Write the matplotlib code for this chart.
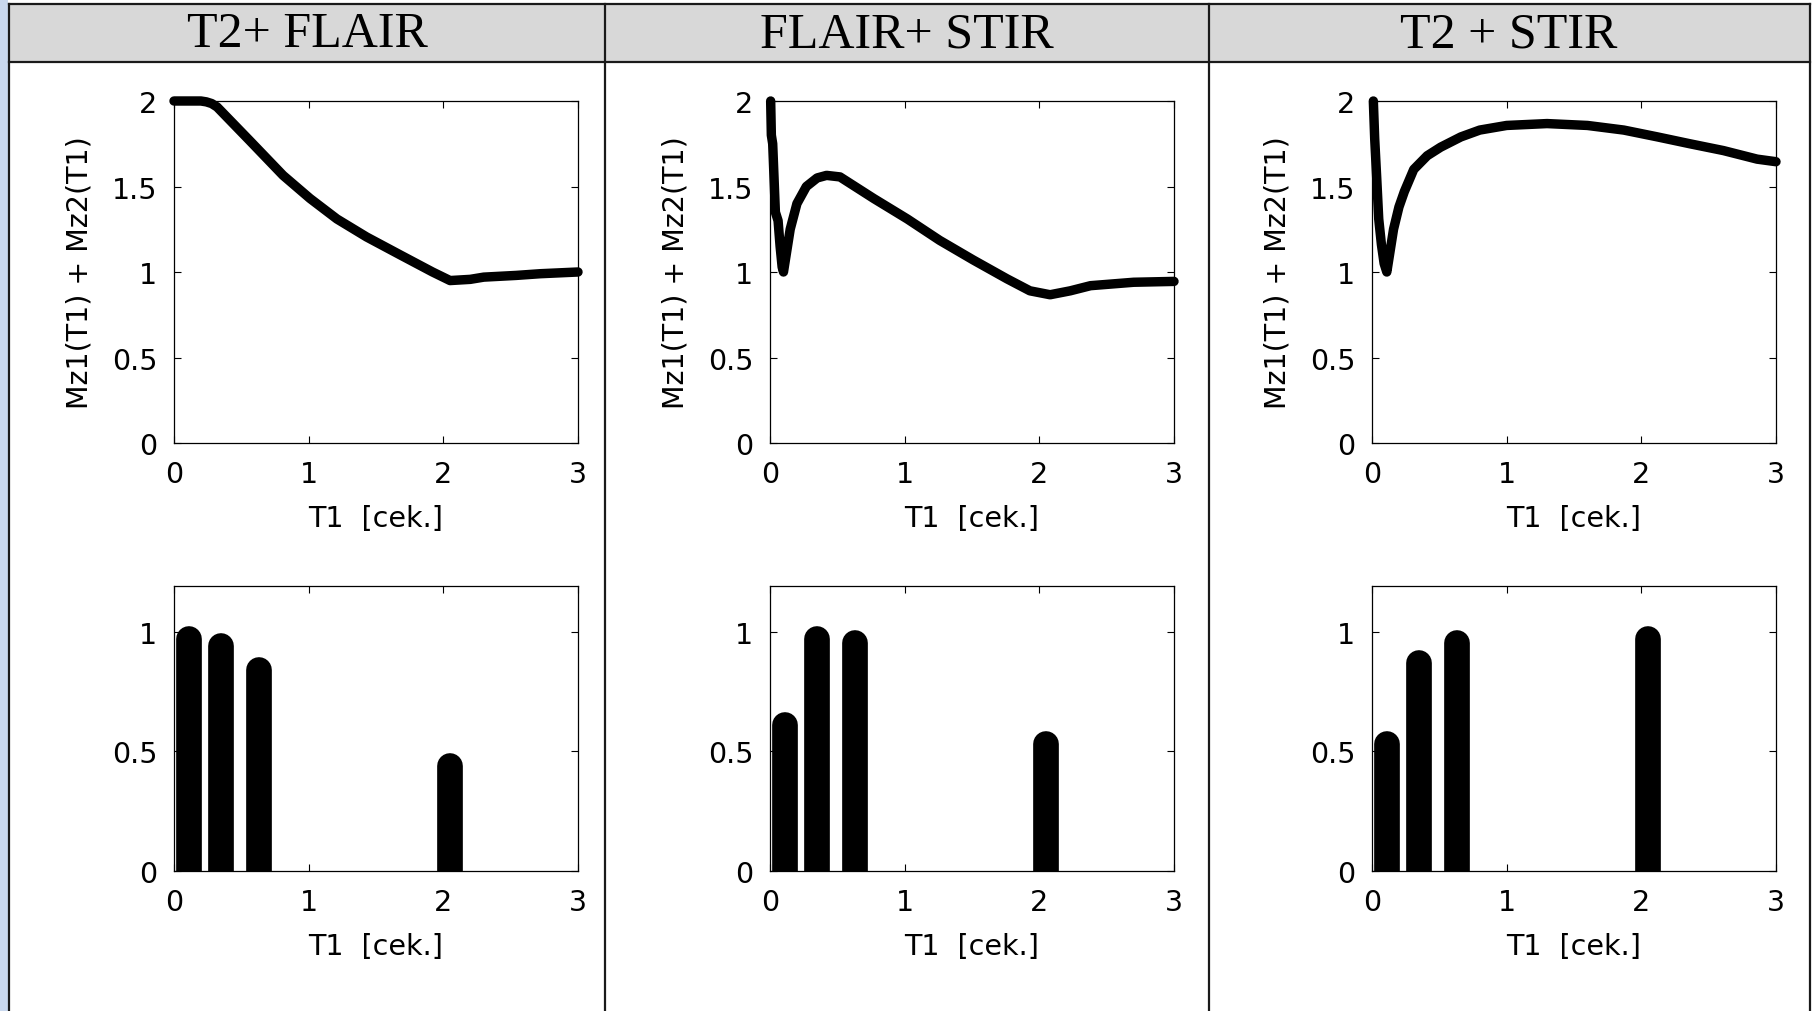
import matplotlib
matplotlib.use("Agg")
import matplotlib.pyplot as plt
from matplotlib.lines import Line2D
from matplotlib.patches import Rectangle

# column headers
titles = ["T2+ FLAIR", "FLAIR+ STIR", "T2 + STIR"]

# top row: Mz1(T1) + Mz2(T1) curves
t_top1 = [0, 0.1, 0.2, 0.24, 0.28, 0.32, 0.56, 0.81, 1.01, 1.21, 1.43, 1.68, 1.92, 2.05, 2.2, 2.3, 2.54, 2.72, 3.0]
m_top1 = [2.0, 2.0, 2.0, 1.995, 1.985, 1.965, 1.77, 1.565, 1.43, 1.31, 1.205, 1.10, 1.0, 0.95, 0.957, 0.97, 0.98, 0.99, 1.0]

t_top2 = [0.005, 0.01, 0.02, 0.03, 0.04, 0.06, 0.075, 0.09, 0.1, 0.12, 0.15, 0.2, 0.27, 0.35, 0.42,
          0.52, 0.77, 1.02, 1.26, 1.51, 1.76, 1.93, 2.08, 2.23, 2.38, 2.7, 3.0]
m_top2 = [2.0, 1.8, 1.75, 1.55, 1.35, 1.3, 1.15, 1.03, 1.0, 1.1, 1.25, 1.4, 1.5, 1.55, 1.565,
          1.556, 1.43, 1.31, 1.185, 1.07, 0.96, 0.89, 0.867, 0.89, 0.92, 0.94, 0.945]

t_top3 = [0.01, 0.02, 0.035, 0.05, 0.07, 0.09, 0.11, 0.13, 0.16, 0.2, 0.24, 0.31, 0.41, 0.51, 0.66,
          0.8, 1.0, 1.3, 1.6, 1.87, 2.12, 2.36, 2.61, 2.86, 3.0]
m_top3 = [2.0, 1.78, 1.55, 1.31, 1.16, 1.05, 1.0, 1.1, 1.25, 1.38, 1.47, 1.6, 1.68, 1.73, 1.79,
          1.83, 1.857, 1.868, 1.857, 1.83, 1.79, 1.75, 1.71, 1.66, 1.645]

# bottom row: spectra (bar positions and heights)
bar_t = [0.11, 0.35, 0.63, 2.05]
bar_h1 = [0.97, 0.94, 0.84, 0.44]
bar_h2 = [0.61, 0.97, 0.95, 0.53]
bar_h3 = [0.53, 0.87, 0.95, 0.97]

curves = [(t_top1, m_top1), (t_top2, m_top2), (t_top3, m_top3)]
bars = [bar_h1, bar_h2, bar_h3]

W, H = 1817, 1012
fig = plt.figure(figsize=(W / 100, H / 100), dpi=100)
fig.patch.set_facecolor("white")

def fx(px):
    return px / W

def fy(py):
    return 1 - py / H

# table frame
fig.patches.append(Rectangle((0, 0), fx(8), 1, transform=fig.transFigure,
                             facecolor="#c9d8ee", edgecolor="none", zorder=0))
fig.patches.append(Rectangle((fx(9), fy(63)), fx(1810 - 9), 58 / H, transform=fig.transFigure,
                             facecolor="#d8d8d8", edgecolor="none", zorder=0))
lc = "#1a1a1a"
for py in [5, 63]:
    fig.lines.append(Line2D([fx(9), fx(1810)], [fy(py), fy(py)], transform=fig.transFigure,
                            color=lc, lw=1.6))
for px in [9, 605, 1209, 1810]:
    fig.lines.append(Line2D([fx(px), fx(px)], [fy(5), 0], transform=fig.transFigure,
                            color=lc, lw=1.6))

col_centers = [307, 907, 1509]
for cx, title in zip(col_centers, titles):
    fig.text(fx(cx), fy(35), title, ha="center", va="center",
             family="Liberation Serif", fontsize=36)

ax_left = [174, 770, 1372]
ax_w = 404
fs = 20.5

def style(ax):
    ax.tick_params(direction="in", length=5, width=0.8, top=True, right=True,
                   labelsize=fs, pad=12)
    for s in ax.spines.values():
        s.set_linewidth(0.9)
    ax.set_xlim(0, 3)
    ax.set_xticks([0, 1, 2, 3])
    ax.set_xlabel("T1  [cek.]", fontsize=fs, labelpad=12)

for i in range(3):
    # top curves
    ax = fig.add_axes([fx(ax_left[i]), fy(444), ax_w / W, (444 - 102) / H])
    t, m = curves[i]
    ax.plot(t, m, color="black", lw=6.8, solid_capstyle="round", solid_joinstyle="round",
            clip_on=False)
    ax.set_ylim(0, 2)
    ax.set_yticks([0, 0.5, 1, 1.5, 2])
    ax.set_yticklabels(["0", "0.5", "1", "1.5", "2"])
    style(ax)
    ax.set_ylabel("Mz1(T1) + Mz2(T1)", fontsize=fs)
    ax.yaxis.set_label_coords(-0.2, 0.5)

    # bottom bars
    bx = fig.add_axes([fx(ax_left[i]), fy(872), ax_w / W, (872 - 587) / H])
    bx.vlines(bar_t, 0, bars[i], color="black", lw=18.5, capstyle="round")
    bx.set_ylim(0, 1.19)
    bx.set_yticks([0, 0.5, 1])
    bx.set_yticklabels(["0", "0.5", "1"])
    style(bx)

fig.savefig("out.png", dpi=100)
